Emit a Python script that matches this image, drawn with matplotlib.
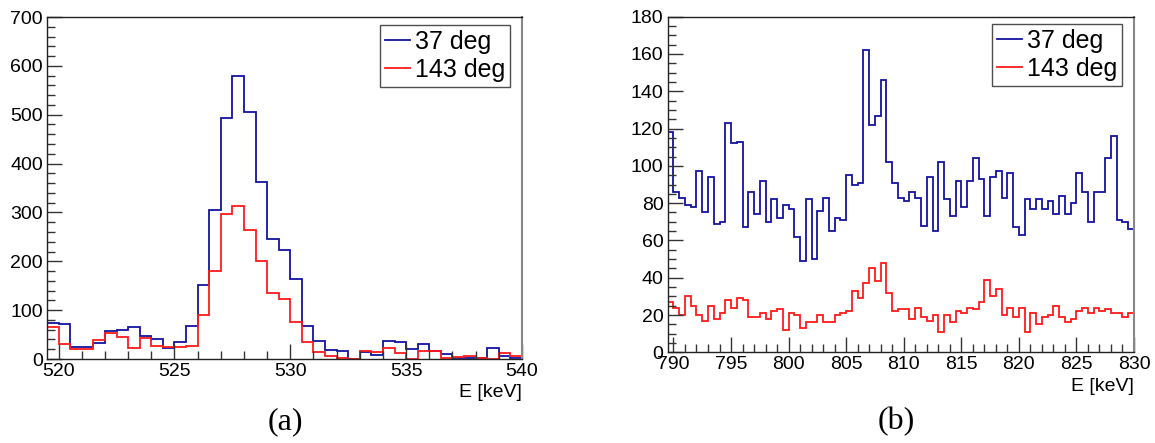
import numpy as np
import matplotlib
matplotlib.use("Agg")
import matplotlib.pyplot as plt
from matplotlib.ticker import MultipleLocator

# ---------------- data ----------------
# panel (a): 0.5 keV bins from 519.5 to 540 keV
edges_a_start, edges_a_stop, bin_w = 519.5, 540.0, 0.5
blue_a = [74, 71, 25, 25, 32, 57, 59, 65, 48, 40,
          23, 34, 68, 151, 305, 493, 579, 506, 363, 246,
          223, 163, 68, 37, 18, 16, 0, 15, 8, 37,
          35, 20, 30, 16, 10, 3, 3, 2, 23, 7, 2]
red_a = [66, 30, 20, 20, 38, 53, 46, 22, 44, 27,
         25, 24, 27, 91, 181, 297, 314, 265, 201, 136,
         122, 76, 35, 15, 6, 3, 0, 16, 15, 23,
         12, 0, 16, 16, 2, 5, 7, 2, 0, 13, 7]

# panel (b): 0.5 keV bins from 789.5 to 830 keV
edges_b_start, edges_b_stop = 789.5, 830.0
blue_b = [118, 86, 83, 79, 78, 97, 75, 94, 69, 70,
          123, 112, 113, 67, 86, 74, 92, 70, 82, 72,
          79, 77, 62, 49, 82, 50, 76, 83, 65, 72,
          71, 95, 90, 91, 162, 122, 127, 146, 102, 91,
          83, 81, 86, 83, 68, 94, 65, 102, 82, 73,
          92, 78, 92, 104, 93, 73, 94, 97, 83, 96,
          67, 63, 82, 77, 82, 77, 81, 74, 84, 74,
          80, 96, 86, 70, 86, 86, 104, 116, 71, 70, 66]
red_b = [27, 24, 20, 30, 25, 20, 17, 25, 18, 21,
         28, 24, 29, 28, 19, 19, 21, 18, 22, 23,
         12, 21, 20, 13, 16, 16, 20, 16, 16, 20,
         21, 22, 33, 29, 37, 45, 38, 48, 32, 22,
         23, 23, 18, 24, 19, 17, 20, 11, 20, 16,
         22, 21, 24, 23, 27, 39, 30, 34, 20, 24,
         19, 24, 11, 21, 15, 19, 20, 25, 19, 16,
         18, 22, 24, 21, 24, 22, 23, 21, 21, 19, 21]

labels = ["37 deg", "143 deg"]
xlabel = "E [keV]"
captions = ["(a)", "(b)"]

# ---------------- style ----------------
plt.rcParams['font.family'] = ['Liberation Sans', 'DejaVu Sans']
BLUE = '#1414a0'
RED = '#ff1a1a'

fig = plt.figure(figsize=(11.55, 4.43), dpi=100)
axA = fig.add_axes([47/1155, 1-359/443, 475/1155, 342/443])
axB = fig.add_axes([667.7/1155, 1-352.3/443, 466.3/1155, 335.6/443])


def style(ax, xlim, ylim, ymaj, ymin, leg_anchor):
    ax.set_xlim(*xlim)
    ax.set_ylim(*ylim)
    ax.xaxis.set_major_locator(MultipleLocator(5))
    ax.xaxis.set_minor_locator(MultipleLocator(1))
    ax.yaxis.set_major_locator(MultipleLocator(ymaj))
    ax.yaxis.set_minor_locator(MultipleLocator(ymin))
    ax.tick_params(which='both', direction='in', top=False, right=False,
                   labelsize=14, color='#333333', pad=3)
    ax.tick_params(which='major', length=11, width=1)
    ax.tick_params(which='minor', length=6, width=1)
    for s in ['left', 'bottom', 'top']:
        ax.spines[s].set_color('#222222')
        ax.spines[s].set_linewidth(1.0)
    ax.spines['right'].set_color('#888888')
    ax.spines['right'].set_linewidth(1.5)
    ax.set_xlabel(xlabel, fontsize=14, loc='right', labelpad=3)
    leg = ax.legend(loc='upper right', bbox_to_anchor=leg_anchor,
                    fontsize=18, frameon=True, fancybox=False,
                    edgecolor='#222222', borderaxespad=0, handlelength=1.0,
                    handletextpad=0.2, borderpad=0.2, labelspacing=0.15)
    leg.get_frame().set_linewidth(1.0)


edgesA = np.arange(edges_a_start, edges_a_stop + bin_w / 2, bin_w)
edgesB = np.arange(edges_b_start, edges_b_stop + bin_w / 2, bin_w)

axA.stairs(blue_a, edgesA, baseline=None, color=BLUE, lw=1.3, label=labels[0])
axA.stairs(red_a, edgesA, baseline=None, color=RED, lw=1.3, label=labels[1])
style(axA, (519.5, 540), (0, 700), 100, 20, (0.975, 0.977))

axB.stairs(blue_b, edgesB, baseline=None, color=BLUE, lw=1.3, label=labels[0])
axB.stairs(red_b, edgesB, baseline=None, color=RED, lw=1.3, label=labels[1])
style(axB, (789.5, 830), (0, 180), 20, 5, (0.974, 0.978))

fig.text(285/1155, 1-422/443, captions[0], family=['Liberation Serif', 'DejaVu Serif'],
         fontsize=23, ha='center', va='center')
fig.text(896/1155, 1-422/443, captions[1], family=['Liberation Serif', 'DejaVu Serif'],
         fontsize=23, ha='center', va='center')

fig.savefig("out.png", dpi=100)
